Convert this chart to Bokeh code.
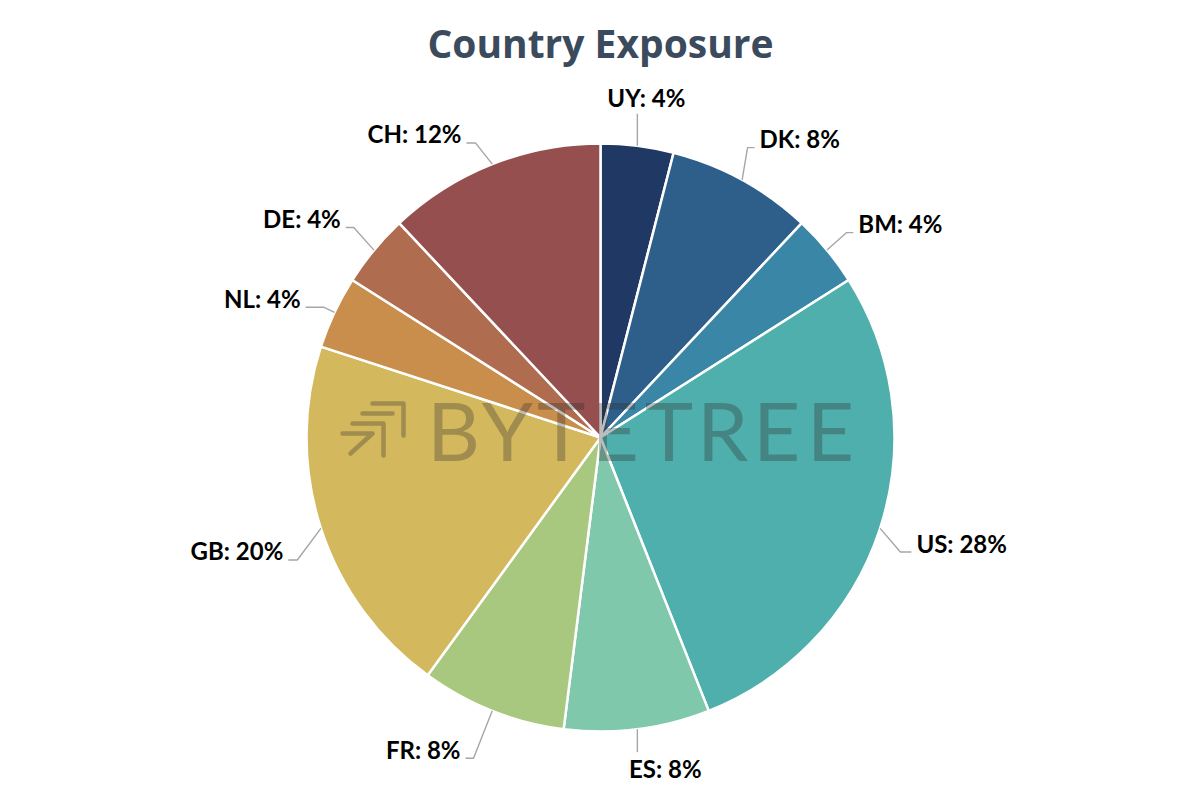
import numpy as np
from bokeh.plotting import figure
from bokeh.models import Range1d, ColumnDataSource
from bokeh.core.properties import value
from bokeh.embed import file_html
from bokeh.resources import INLINE

# ---- data ----
countries = ["UY", "DK", "BM", "US", "ES", "FR", "GB", "NL", "DE", "CH"]
shares = [4, 8, 4, 28, 8, 8, 20, 4, 4, 12]
colors = ["#203864", "#2e5f8a", "#3a86a6", "#4fafac", "#7fc8ab",
          "#a9c87f", "#d4b85d", "#c98e4b", "#b06c4f", "#954f4f"]
title_text = "Country Exposure"
watermark = "BYTETREE"

# ---- label layout (leader geometry, not data) ----
lab_mode = ["top", "side", "side", "side", "bottom", "side", "side", "side", "side", "side"]
lab_ext = [32, 31, 26, 27, 23, 51, 33, 12, 30, 26]
lab_dang = [0, -1.9, -0.2, 2.9, 0, 0, -4.0, 0, 0.8, -1.4]
lab_hlen = [0, 7, 7, 11, 0, 8, 9, 18, 8, 9]

W, H = 1184, 784
# data coordinates: x = screen x, y = 800 - screen y
p = figure(width=W, height=H, x_range=Range1d(0, W), y_range=Range1d(800 - H, 800),
           output_backend="svg", toolbar_location=None, min_border=0)
p.axis.visible = False
p.grid.visible = False
p.outline_line_color = None
p.background_fill_color = "white"


def sy(y):
    return 800 - y


CX, CY, R = 600, sy(437), 294

frac = np.array(shares, dtype=float) / sum(shares)
cum = np.concatenate([[0.0], np.cumsum(frac)])
start = np.pi / 2 - 2 * np.pi * cum[:-1]
end = np.pi / 2 - 2 * np.pi * cum[1:]
src = ColumnDataSource(dict(start=start, end=end, color=colors, name=countries))
p.wedge(x=CX, y=CY, radius=R, radius_units="screen", start_angle="start", end_angle="end",
        direction="clock", fill_color="color", line_color="white", line_width=2.5, source=src)

# ---- labels with leader lines ----
mid = (start + end) / 2
lx, ly, lt, la = [], [], [], []
xs, ys = [], []
for i, name in enumerate(countries):
    ex, ey = CX + R * np.cos(mid[i]), CY + R * np.sin(mid[i])
    text = f"{name}: {shares[i]}%"
    if lab_mode[i] == "top":
        bx, by = ex, ey + lab_ext[i]
        xs.append([ex, bx]); ys.append([ey, by])
        lx.append(bx + 9); ly.append(by + 16); la.append("center")
    elif lab_mode[i] == "bottom":
        bx, by = ex, ey - lab_ext[i]
        xs.append([ex, bx]); ys.append([ey, by])
        lx.append(bx + 28); ly.append(by - 16); la.append("center")
    else:
        a = mid[i] - np.deg2rad(lab_dang[i])
        bx, by = CX + (R + lab_ext[i]) * np.cos(a), CY + (R + lab_ext[i]) * np.sin(a)
        side = 1 if bx > CX else -1
        hx = bx + side * lab_hlen[i]
        xs.append([ex, bx, hx]); ys.append([ey, by, by])
        lx.append(hx + side * 5); ly.append(by + 9); la.append("left" if side > 0 else "right")
    lt.append(text)

p.multi_line(xs=xs, ys=ys, line_color="#a6a6a6", line_width=1.4)
p.text(x=lx, y=ly, text=lt, text_align=la, text_baseline="middle",
       text_font=value("Lato"), text_font_style="bold", text_font_size="24px", text_color="#000000")

# ---- title ----
p.text(x=[600], y=[sy(42)], text=[title_text], text_align="center", text_baseline="middle",
       text_font=value("Open Sans"), text_font_style="bold", text_font_size="39px", text_color="#3c4a5d")

# ---- watermark ----
wm_color = "#2f2f2f"
wm_alpha = 0.32
n = len(watermark)
wx = [453 + k * (830 - 453) / (n - 1) for k in range(n)]
p.text(x=wx, y=[sy(428)] * n, text=list(watermark), text_align="center", text_baseline="middle",
       text_font=value("Lato"), text_font_size="82px", text_color=wm_color, text_alpha=wm_alpha)
icon_xs = [[372, 403, 403], [362, 392], [352, 383, 383], [342, 372, 350]]
icon_ys = [[sy(403), sy(403), sy(435)], [sy(413), sy(413)], [sy(423), sy(423), sy(455)],
           [sy(433), sy(433), sy(453)]]
p.multi_line(xs=icon_xs, ys=icon_ys, line_color=wm_color, line_alpha=wm_alpha, line_width=4.5,
             line_cap="round", line_join="round")

open("out.html", "w").write(file_html(p, INLINE))
